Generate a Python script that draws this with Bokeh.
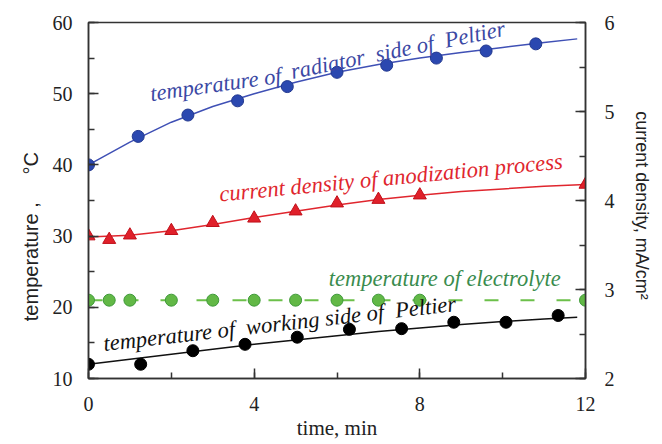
import math
from bokeh.plotting import figure
from bokeh.models import Range1d, LinearAxis, SingleIntervalTicker, Label
from bokeh.embed import file_html
from bokeh.resources import INLINE

# ---- data ----
rad_t = [0, 1.2, 2.4, 3.6, 4.8, 6.0, 7.2, 8.4, 9.6, 10.8]
rad_T = [40, 44, 47, 49, 51, 53, 54, 55, 56, 57]
rad_fit_t = [0, 1, 2, 3, 4, 5, 6, 7, 8, 9, 10, 11, 11.8]
rad_fit_T = [40, 43.2, 46.0, 48.2, 50.0, 51.6, 53.0, 54.1, 55.0, 55.8, 56.5, 57.2, 57.7]

cd_t = [0, 0.5, 1, 2, 3, 4, 5, 6, 7, 8, 12]
cd_v = [3.60, 3.56, 3.61, 3.66, 3.75, 3.80, 3.88, 3.97, 4.01, 4.06, 4.18]
cd_fit_t = [0, 1, 2, 3, 4, 5, 6, 7, 8, 9, 10, 11, 12]
cd_fit_v = [3.59, 3.61, 3.66, 3.73, 3.81, 3.88, 3.95, 4.01, 4.06, 4.10, 4.13, 4.16, 4.18]

el_t = [0, 0.5, 1, 2, 3, 4, 5, 6, 7, 8, 12]
el_T = [21, 21, 21, 21, 21, 21, 21, 21, 21, 21, 21]

work_t = [0, 1.26, 2.52, 3.78, 5.04, 6.3, 7.56, 8.82, 10.08, 11.34]
work_T = [12.0, 12.0, 13.9, 14.8, 15.8, 16.9, 17.0, 17.9, 17.9, 18.85]
work_fit_t = [0, 1, 2, 3, 4, 5, 6, 7, 8, 9, 10, 11, 11.8]
work_fit_T = [12.0, 12.7, 13.4, 14.1, 14.8, 15.4, 16.0, 16.6, 17.1, 17.6, 18.0, 18.35, 18.6]

x_label = "time, min"
y_label = "temperature ," + "\u00a0" * 5 + "°C" + "\u00a0" * 13
y2_label = "\u00a0\u00a0current density, mA/cm²"

AX = "#333333"
SERIF = "'Liberation Serif', 'Times New Roman', serif"
SANS = "'Liberation Sans', Arial, sans-serif"

p = figure(width=654, height=444, x_range=Range1d(0, 12), y_range=Range1d(10, 60),
           output_backend="svg", toolbar_location=None,
           min_border_left=88, min_border_right=65, min_border_top=22, min_border_bottom=66)
p.extra_y_ranges = {"cd": Range1d(2, 6)}
p.grid.visible = False
p.outline_line_color = AX
p.outline_line_width = 1.5
p.background_fill_color = "white"
p.border_fill_color = "white"

p.xaxis.ticker = SingleIntervalTicker(interval=4, num_minor_ticks=2)
p.yaxis.ticker = SingleIntervalTicker(interval=10, num_minor_ticks=2)
ax2 = LinearAxis(y_range_name="cd", ticker=SingleIntervalTicker(interval=1, num_minor_ticks=2))
p.add_layout(ax2, "right")

for ax in [p.xaxis[0], p.yaxis[0], ax2]:
    ax.axis_line_color = AX
    ax.axis_line_width = 1.5
    ax.major_tick_line_color = AX
    ax.major_tick_line_width = 1.5
    ax.minor_tick_line_color = AX
    ax.minor_tick_line_width = 1.5
    ax.major_tick_in = 10
    ax.major_tick_out = 0
    ax.minor_tick_in = 6
    ax.minor_tick_out = 0
    ax.major_label_text_font = SERIF
    ax.major_label_text_font_size = "20px"
    ax.major_label_text_color = "#222222"
    ax.axis_label_text_font_style = "normal"
    ax.axis_label_text_color = "#222222"

p.xaxis.major_label_standoff = 18
p.yaxis.major_label_standoff = 16
ax2.major_label_standoff = 19

p.xaxis.axis_label = x_label
p.xaxis.axis_label_text_font = SERIF
p.xaxis.axis_label_text_font_size = "21px"
p.xaxis.axis_label_standoff = 2

p.yaxis.axis_label = y_label
p.yaxis.axis_label_text_font = SANS
p.yaxis.axis_label_text_font_size = "20px"
p.yaxis.axis_label_standoff = 8

ax2.axis_label = y2_label
ax2.axis_label_text_font = SANS
ax2.axis_label_text_font_size = "18px"
ax2.axis_label_standoff = 14

# ---- series ----
p.line(rad_fit_t, rad_fit_T, line_color="#3f50b5", line_width=1.5)
p.scatter(rad_t, rad_T, marker="circle", size=12, fill_color="#2b48b0", line_color="#22388f")

p.line(cd_fit_t, cd_fit_v, y_range_name="cd", line_color="#e0262e", line_width=1.5)
p.scatter(cd_t, cd_v, y_range_name="cd", marker="triangle", size=13,
          fill_color="#e0202a", line_color="#c0101a")

p.line(el_t, el_T, line_color="#6cc04a", line_width=2, line_dash="14 22")
p.scatter(el_t, el_T, marker="circle", size=12, fill_color="#62b846", line_color="#3f9a3a")

p.line(work_fit_t, work_fit_T, line_color="#111111", line_width=1.5)
p.scatter(work_t, work_T, marker="circle", size=12, fill_color="#000000", line_color="#000000")

# ---- annotations ----
def note(x, y, text, color, deg, size):
    p.add_layout(Label(x=x, y=y, text=text, text_color=color, angle=math.radians(deg),
                       text_font=SERIF, text_font_style="italic", text_font_size=size,
                       text_align="left", text_baseline="alphabetic"))

note(1.49, 50.0, "temperature of", "#3b48a4", 8, "22.5px")
note(4.89, 53.1, "radiator\u00a0 side of\u00a0 Peltier", "#3b48a4", 11.5, "22.5px")
note(3.16, 35.9, "current density of anodization process", "#e0262e", 5.5, "22.6px")
note(5.80, 24.0, "temperature of electrolyte", "#3a8c4e", 0, "22.5px")
note(0.36, 14.9, "temperature of\u00a0 working side of\u00a0 Peltier", "#111111", 6.5, "22.5px")

open("out.html", "w").write(file_html(p, INLINE))
